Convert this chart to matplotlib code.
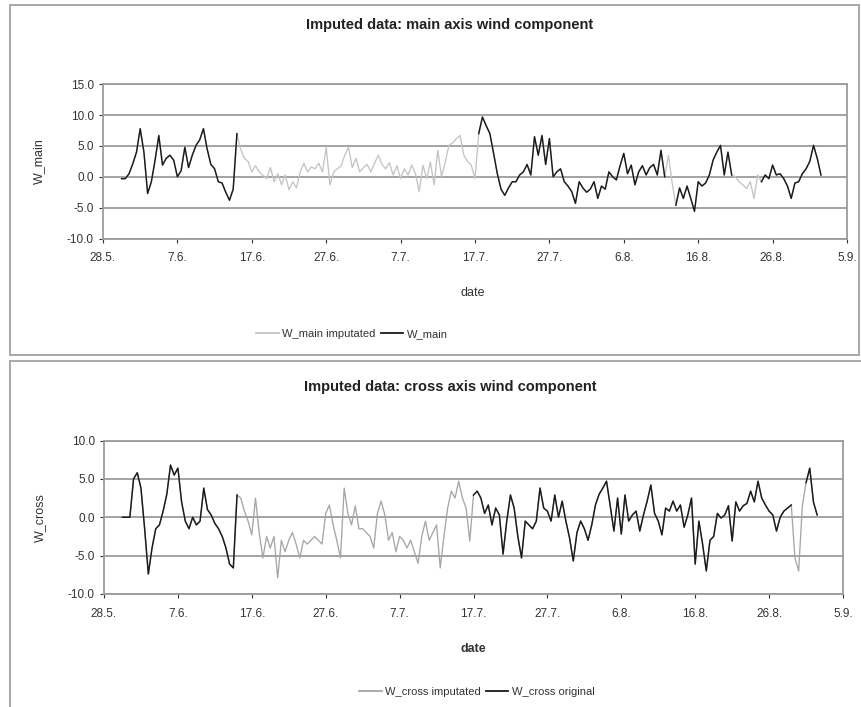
import numpy as np
import matplotlib
matplotlib.use("Agg")
import matplotlib.pyplot as plt
from matplotlib.patches import Rectangle
from matplotlib.lines import Line2D

plt.rcParams['font.family'] = ['Liberation Sans', 'DejaVu Sans']

# time axis: days after 28.5., one value every half day
day = np.arange(2.5, 96.75, 0.5)
tick_days = [0, 10, 20, 30, 40, 50, 60, 70, 80, 90, 100]
tick_labels = ["28.5.", "7.6.", "17.6.", "27.6.", "7.7.", "17.7.",
               "27.7.", "6.8.", "16.8.", "26.8.", "5.9."]

w_main = [
    -0.3, -0.3, 0.5, 2.1, 4.0, 7.8, 4.0, -2.7, -0.8, 2.7,
    6.7, 1.9, 3.0, 3.5, 2.7, 0.0, 1.0, 4.8, 1.5, 3.5,
    5.1, 6.0, 7.8, 4.5, 2.0, 1.3, -0.8, -1.0, -2.5, -3.8,
    -2.0, 7.0, 4.5, 3.0, 2.5, 0.8, 1.8, 0.8, 0.2, -0.3,
    1.5, -0.8, 0.5, -1.3, 0.3, -2.1, -0.8, -1.8, 0.8, 2.2,
    0.8, 1.6, 1.3, 2.2, 0.8, 4.8, -1.3, 0.8, 1.3, 1.8,
    3.5, 4.8, 1.5, 3.0, 0.8,
    1.5, 2.0, 0.8, 2.2, 3.5, 2.0, 1.3, 2.3, 0.3, 1.8,
    -0.3, 1.3, 0.3, 1.9, 0.5, -2.4, 1.9, -0.3, 2.4, -1.3,
    4.3, 0.0, 2.4, 5.1, 5.5, 6.2, 6.7, 3.5, 2.5, 1.9,
    -0.3, 7.0, 9.7, 8.3, 7.0, 3.8, 0.5, -2.0, -3.0, -1.8,
    -0.8, -0.8, 0.3, 0.8, 2.0, 0.3, 6.5, 3.5, 6.7, 2.0,
    6.2, 0.0, 0.8, 1.3, -0.8, -1.5, -2.4, -4.3, -0.8, -1.8,
    -2.5, -2.0, -0.8, -3.5, -1.5, -2.0, 0.8,
    0.0, -0.5, 1.8, 3.8, 0.5, 1.9, -1.3, 0.8, 1.8, 0.3,
    1.5, 2.0, 0.3, 4.3, 0.0, 3.5, -1.0, -4.6, -1.8, -3.5,
    -1.5, -3.5, -5.6, -0.8, -1.5, -1.0, 0.3, 2.7, 4.0, 5.1,
    0.3, 4.0, 0.3, 0.0, -0.8, -1.3, -1.9, -0.8, -3.5, 0.3,
    -0.8, 0.3, -0.3, 1.9, 0.3, 0.5, -0.3, -1.5, -3.5, -1.0,
    -0.8, 0.5, 1.3, 2.5, 5.1, 3.0, 0.3,
]

w_cross = [
    0.0, 0.0, 0.0, 5.0, 5.8, 3.8, -1.5, -7.4, -4.0, -1.5,
    -1.0, 0.8, 3.0, 6.8, 5.5, 6.4, 2.0, -0.5, -1.5, 0.0,
    -1.0, -0.5, 3.8, 1.0, 0.3, -0.8, -1.5, -2.5, -4.0, -6.1,
    -6.6, 2.9, 2.5, 0.8, -0.5, -2.3, 2.5, -2.0, -5.3, -2.5,
    -4.0, -2.5, -7.9, -3.0, -4.5, -3.0, -2.0, -3.5, -5.3, -3.0,
    -3.5, -3.0, -2.5, -3.0, -3.5, 0.5, 1.6, -1.0, -3.0, -5.3,
    3.8, 0.5, -1.0, 1.5, -1.5,
    -1.5, -2.0, -2.5, -4.0, 0.5, 2.1, 0.3, -3.0, -2.0, -4.5,
    -2.5, -3.0, -4.0, -3.0, -4.5, -6.0, -2.5, -0.5, -3.0, -2.0,
    -1.0, -6.6, -2.5, 1.2, 3.4, 2.5, 4.7, 2.5, 1.2, -3.1,
    2.9, 3.4, 2.5, 0.5, 1.6, -1.0, 1.2, 0.3, -4.8, -0.5,
    2.9, 1.2, -2.5, -5.3, -0.5, -1.0, -1.5, -0.5, 3.8, 1.2,
    0.8, -0.5, 2.9, 0.0, 2.1, -0.5, -2.7, -5.7, -2.0, -0.5,
    -1.5, -3.0, -1.0, 1.6, 3.0, 3.8, 4.7,
    1.5, -1.8, 2.5, -2.2, 2.9, -0.5, 0.3, 0.8, -1.8, 0.3,
    2.1, 4.2, 0.5, -0.5, -2.3, 1.2, 0.8, 2.1, 0.8, 1.6,
    -1.3, 0.3, 2.5, -6.1, -0.5, -3.5, -7.0, -3.0, -2.5, 0.5,
    -0.1, 0.3, 1.5, -3.1, 2.0, 0.8, 1.5, 1.8, 3.4, 2.0,
    4.7, 2.5, 1.6, 0.8, 0.3, -1.8, 0.0, 0.8, 1.2, 1.6,
    -5.3, -7.0, 1.5, 4.5, 6.4, 2.0, 0.3,
]

# day spans where measured (non-imputed) values exist
main_measured = [(2.5, 18.0), (50.5, 75.5), (77.0, 84.5), (88.5, 96.5)]
cross_measured = [(2.5, 18.0), (50.0, 93.0), (95.0, 96.5)]


def measured_only(values, spans):
    v = np.array(values, dtype=float)
    keep = np.zeros(len(day), dtype=bool)
    for a, b in spans:
        keep |= (day >= a) & (day <= b)
    v[~keep] = np.nan
    return v


GRID = "#9c9c9c"
W, H = 862, 707
fig = plt.figure(figsize=(W / 100, H / 100), dpi=100)


def fx(x):
    return x / W


def fy(y):
    return 1 - y / H


# panel frames
fig.add_artist(Rectangle((fx(10), fy(355)), fx(849), 350 / H, transform=fig.transFigure,
                         fill=False, edgecolor="#a8a8a8", lw=1.4))
fig.add_artist(Line2D([fx(10), 1.0], [fy(361), fy(361)], transform=fig.transFigure,
                      color="#a8a8a8", lw=1.4))
fig.add_artist(Line2D([fx(10), fx(10)], [fy(361), 0.0], transform=fig.transFigure,
                      color="#a8a8a8", lw=1.4))


def panel(rect, imputed, measured, yticks, title, ylabel, labels, imp_color,
          title_y, xlab_y, leg_x, leg_y, xlab_bold):
    ax = fig.add_axes(rect)
    ax.plot(day, imputed, color=imp_color, lw=0.95, zorder=3)
    ax.plot(day, measured, color="#1a1a1a", lw=1.05, zorder=4)
    ax.set_xlim(tick_days[0], tick_days[-1])
    ax.set_ylim(yticks[0], yticks[-1])
    ax.set_xticks(tick_days)
    ax.set_xticklabels(tick_labels)
    ax.set_yticks(yticks)
    ax.set_yticklabels([f"{t:.1f}" for t in yticks])
    ax.tick_params(labelsize=8.5, colors="#333333", length=3, width=0.8)
    ax.tick_params(axis="x", pad=7)
    ax.grid(axis="y", color=GRID, lw=1.3)
    ax.set_axisbelow(True)
    for s in ax.spines.values():
        s.set_color(GRID)
        s.set_linewidth(1.3)
    ax.set_ylabel(ylabel, fontsize=9, color="#333333", labelpad=16)
    fig.text(fx(450), fy(title_y), title, ha="center", va="center",
             fontsize=10.5, fontweight="bold", color="#222222")
    fig.text(fx(473), fy(xlab_y), "date", ha="center", va="center", fontsize=9,
             fontweight="bold" if xlab_bold else "normal", color="#333333")
    handles = [Line2D([], [], color=imp_color, lw=1.3),
               Line2D([], [], color="#1a1a1a", lw=1.3)]
    fig.legend(handles, labels, loc="center", bbox_to_anchor=(fx(leg_x), fy(leg_y)),
               ncol=2, frameon=False, fontsize=8, handlelength=2.0,
               handletextpad=0.3, columnspacing=0.5, labelcolor="#333333")
    return ax


panel([fx(103), fy(238.5), fx(744), (238.5 - 84.3) / H],
      w_main, measured_only(w_main, main_measured),
      [-10, -5, 0, 5, 10, 15],
      "Imputed data: main axis wind component", "W_main",
      ["W_main imputated", "W_main"], "#c4c4c4",
      25, 293, 352, 334, False)

panel([fx(104), fy(594), fx(739), (594 - 440.5) / H],
      w_cross, measured_only(w_cross, cross_measured),
      [-10, -5, 0, 5, 10],
      "Imputed data: cross axis wind component", "W_cross",
      ["W_cross imputated", "W_cross original"], "#a6a6a6",
      387, 649, 477, 692, True)

fig.savefig("out.png", dpi=100)
